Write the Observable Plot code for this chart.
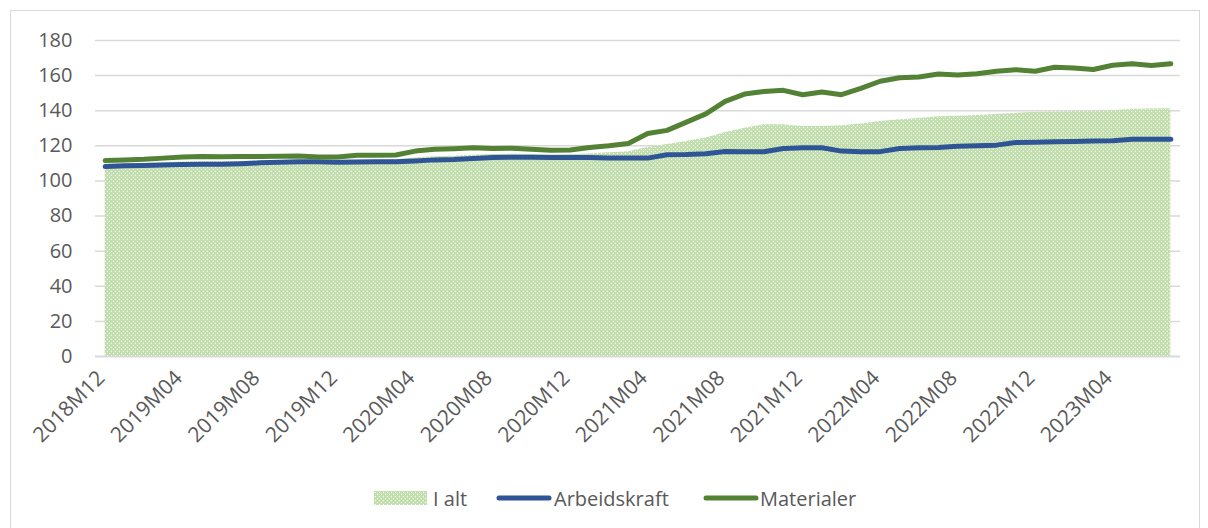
<!DOCTYPE html>
<html>
<head>
<meta charset="utf-8">
<script src="https://cdn.jsdelivr.net/npm/d3@7"></script>
<script src="https://cdn.jsdelivr.net/npm/@observablehq/plot@0.6"></script>
<style>
  html, body { margin: 0; padding: 0; background: #fff; }
  body { width: 1208px; height: 528px; position: relative; overflow: hidden; font-family: "Open Sans", "Noto Sans", sans-serif; color: #595959; }
  #frame { position: absolute; left: 10px; top: 10px; width: 1190px; height: 540px; border: 1px solid #d9d9d9; box-sizing: border-box; }
  #chart { position: absolute; left: 0; top: 0; }
  .lg { position: absolute; top: 484px; height: 28px; display: flex; align-items: center; font-size: 20px; color: #595959; white-space: nowrap; }
</style>
</head>
<body>
<div id="frame"></div>
<div id="chart"></div>
<div class="lg" style="left:374px"><svg width="53" height="14"><rect width="53" height="14" fill="url(#dotsLegend)"/><defs><pattern id="dotsLegend" patternUnits="userSpaceOnUse" width="4" height="4"><rect width="4" height="4" fill="#c1e0ae"/><rect x="1" y="1" width="1" height="1" fill="#fff"/><rect x="3" y="3" width="1" height="1" fill="#fff"/></pattern></defs></svg></div>
<div class="lg" style="left:433px">I alt</div>
<div class="lg" style="left:496px"><svg width="56" height="10"><line x1="3" y1="5" x2="53" y2="5" stroke="#2f5597" stroke-width="5" stroke-linecap="round"/></svg></div>
<div class="lg" style="left:554px">Arbeidskraft</div>
<div class="lg" style="left:703px"><svg width="56" height="10"><line x1="3" y1="5" x2="53" y2="5" stroke="#548235" stroke-width="5" stroke-linecap="round"/></svg></div>
<div class="lg" style="left:760px">Materialer</div>
<script>
const months = [
  "2018M12",
  "2019M01","2019M02","2019M03","2019M04","2019M05","2019M06","2019M07","2019M08","2019M09","2019M10","2019M11","2019M12",
  "2020M01","2020M02","2020M03","2020M04","2020M05","2020M06","2020M07","2020M08","2020M09","2020M10","2020M11","2020M12",
  "2021M01","2021M02","2021M03","2021M04","2021M05","2021M06","2021M07","2021M08","2021M09","2021M10","2021M11","2021M12",
  "2022M01","2022M02","2022M03","2022M04","2022M05","2022M06","2022M07","2022M08","2022M09","2022M10","2022M11","2022M12",
  "2023M01","2023M02","2023M03","2023M04","2023M05","2023M06","2023M07"
];
const xTickLabels = ["2018M12","2019M04","2019M08","2019M12","2020M04","2020M08","2020M12","2021M04","2021M08","2021M12","2022M04","2022M08","2022M12","2023M04"];
const yTicks = [0,20,40,60,80,100,120,140,160,180];

const iAlt = [
  109.5,
  109.8,110.0,110.3,110.8,111.0,111.0,111.1,111.3,111.5,111.8,111.6,111.6,
  112.0,112.0,112.1,113.0,113.8,114.1,114.7,115.0,115.2,115.0,114.8,114.9,
  115.5,116.0,116.7,119.0,120.8,122.5,124.5,127.5,130.0,132.0,132.0,131.0,
  131.0,131.5,132.5,133.9,134.9,135.5,136.5,136.8,137.3,137.8,138.5,139.2,
  139.3,139.5,139.6,140.0,140.8,141.0,141.1
];
const arbeidskraft = [
  108.2,
  108.6,108.8,109.1,109.4,109.5,109.5,109.8,110.3,110.6,110.9,110.9,110.7,
  110.8,110.9,110.9,111.4,112.0,112.2,112.8,113.3,113.5,113.5,113.3,113.3,
  113.3,113.0,113.0,113.0,114.9,115.0,115.5,116.8,116.6,116.6,118.5,118.9,
  118.9,117.0,116.7,116.7,118.5,118.9,119.0,119.8,120.0,120.4,121.9,122.1,
  122.3,122.5,122.7,122.9,123.8,123.8,123.8
];
const materialer = [
  111.6,
  112.0,112.3,113.0,113.6,113.9,113.8,113.9,113.9,114.0,114.2,113.6,113.7,
  114.6,114.6,114.8,117.0,118.0,118.4,118.9,118.5,118.6,118.0,117.5,117.6,
  119.0,120.0,121.3,127.0,128.8,133.5,138.2,145.3,149.5,150.9,151.6,149.1,
  150.7,149.1,152.7,156.8,158.8,159.2,160.9,160.3,161.1,162.5,163.4,162.5,
  164.8,164.4,163.5,165.9,166.7,165.7,166.7
];

const data = months.map((m, i) => ({m, iAlt: iAlt[i], arb: arbeidskraft[i], mat: materialer[i]}));

const chart = Plot.plot({
  width: 1208,
  height: 470,
  marginLeft: 95,
  marginRight: 28,
  marginTop: 40,
  marginBottom: 114,
  style: {fontFamily: "'Open Sans', 'Noto Sans', sans-serif", fontSize: "20px", color: "#595959", background: "transparent", overflow: "visible"},
  x: {type: "point", domain: months, padding: 0.5, round: false, label: null},
  y: {domain: [0, 180], label: null},
  marks: [
    Plot.ruleY(yTicks.filter(d => d > 0), {stroke: "#d9d9d9", strokeWidth: 1.5, strokeOpacity: 1}),
    Plot.areaY(data, {x: "m", y: "iAlt", fill: "url(#dots)", fillOpacity: 1}),
    Plot.ruleY([0], {stroke: "#d9d9d9", strokeWidth: 2, strokeOpacity: 1}),
    Plot.lineY(data, {x: "m", y: "arb", stroke: "#2f5597", strokeWidth: 5, strokeLinejoin: "round", strokeLinecap: "round"}),
    Plot.lineY(data, {x: "m", y: "mat", stroke: "#548235", strokeWidth: 5, strokeLinejoin: "round", strokeLinecap: "round"}),
    Plot.axisY({ticks: yTicks, tickSize: 0, tickPadding: 23, label: null, fontSize: 20}),
    Plot.axisX({ticks: xTickLabels, tickSize: 0, tickPadding: 18, tickRotate: -45, label: null, fontSize: 21, dx: -4})
  ]
});

const defs = d3.select(chart).insert("defs", ":first-child");
const pat = defs.append("pattern").attr("id", "dots").attr("patternUnits", "userSpaceOnUse").attr("width", 4).attr("height", 4);
pat.append("rect").attr("width", 4).attr("height", 4).attr("fill", "#c1e0ae");
pat.append("rect").attr("x", 1).attr("y", 1).attr("width", 1).attr("height", 1).attr("fill", "#fff");
pat.append("rect").attr("x", 3).attr("y", 3).attr("width", 1).attr("height", 1).attr("fill", "#fff");

document.getElementById("chart").appendChild(chart);
</script>
</body>
</html>
